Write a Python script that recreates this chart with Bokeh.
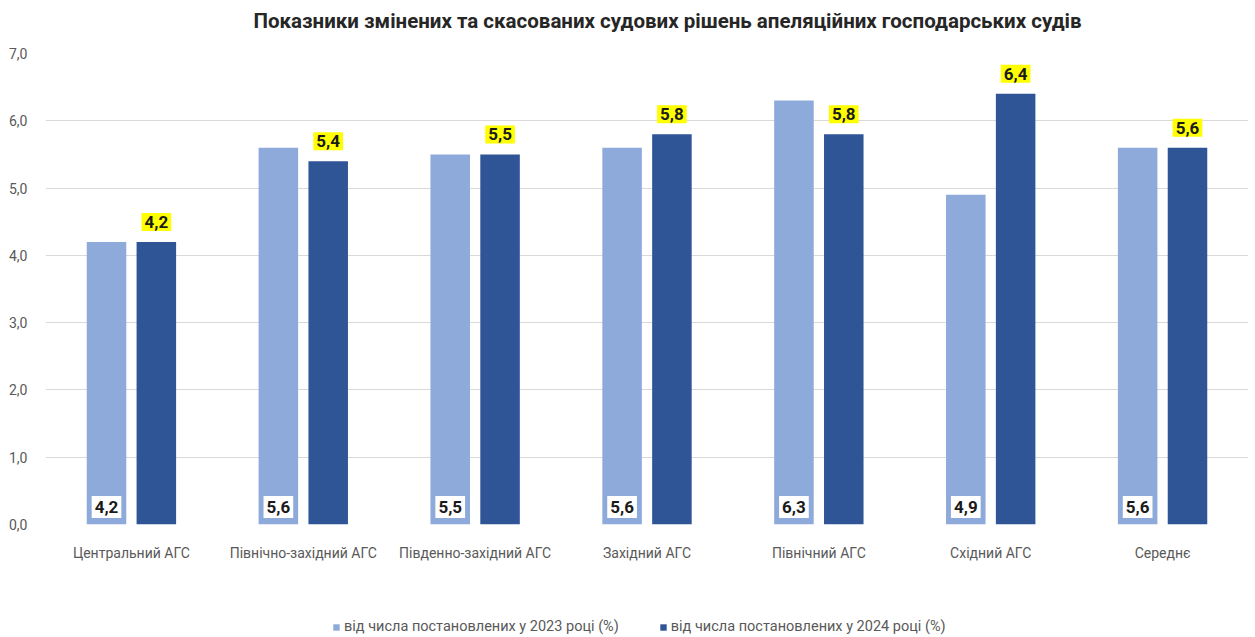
from bokeh.plotting import figure
from bokeh.layouts import column
from bokeh.models import ColumnDataSource, FactorRange, FixedTicker, Legend, LegendItem, Label
from bokeh.transform import dodge
from bokeh.core.properties import value
from bokeh.embed import file_html
from bokeh.resources import INLINE

categories = ["Центральний АГС", "Північно-західний АГС", "Південно-західний АГС",
              "Західний АГС", "Північний АГС", "Східний АГС", "Середнє"]
values_2023 = [4.2, 5.6, 5.5, 5.6, 6.3, 4.9, 5.6]
values_2024 = [4.2, 5.4, 5.5, 5.8, 5.8, 6.4, 5.6]
series_names = ["від числа постановлених у 2023 році (%)",
                "від числа постановлених у 2024 році (%)"]
y_ticks = [0, 1, 2, 3, 4, 5, 6, 7]
y_tick_labels = ["0,0", "1,0", "2,0", "3,0", "4,0", "5,0", "6,0", "7,0"]
title_text = "Показники змінених та скасованих судових рішень апеляційних господарських судів"

def fmt(v):
    return f"{v:.1f}".replace(".", ",")

src = ColumnDataSource(dict(
    cat=categories,
    v23=values_2023,
    v24=values_2024,
    zero=[0] * len(categories),
    l23=[fmt(v) for v in values_2023],
    l24=[fmt(v) for v in values_2024],
))

LIGHT = "#8eaadb"
DARK = "#2f5597"
FONT = "Roboto"
W = 1248

# title strip
pt = figure(width=W, height=40, output_backend="svg", toolbar_location=None,
            x_range=(0, 1), y_range=(0, 1))
pt.min_border = 0
pt.axis.visible = False
pt.grid.visible = False
pt.outline_line_color = None
pt.add_layout(Label(x=208, y=20, x_units="screen", y_units="screen", text=title_text,
                    text_font=FONT, text_font_size="20.5px", text_font_style="bold",
                    text_color="#262626", text_align="left", text_baseline="middle"))

p = figure(x_range=FactorRange(*categories, range_padding=0), y_range=(0, 7),
           width=W, height=570, output_backend="svg", toolbar_location=None)
p.min_border_left = 45
p.min_border_right = 0
p.min_border_top = 13
p.min_border_bottom = 86
p.outline_line_color = None
p.background_fill_color = "white"
p.border_fill_color = "white"

r1 = p.vbar(x=dodge("cat", -0.145, range=p.x_range), top="v23", width=0.23,
            source=src, fill_color=LIGHT, line_color=None)
r2 = p.vbar(x=dodge("cat", 0.145, range=p.x_range), top="v24", width=0.23,
            source=src, fill_color=DARK, line_color=None)

# bottom labels (2023) in white boxes
p.text(x=dodge("cat", -0.145, range=p.x_range), y="zero", text="l23", source=src,
       text_align="center", text_baseline="middle", y_offset=-17.5,
       text_font=value(FONT), text_font_size="17px", text_font_style="bold",
       text_color="#1a1a1a", background_fill_color="white",
       padding=dict(left=3, right=3, top=5, bottom=5))

# top labels (2024) in yellow boxes
p.text(x=dodge("cat", 0.145, range=p.x_range), y="v24", text="l24", source=src,
       text_align="center", text_baseline="middle", y_offset=-20,
       text_font=value(FONT), text_font_size="17px", text_font_style="bold",
       text_color="#1a1a1a", background_fill_color="#ffff00",
       padding=dict(left=3, right=3, top=3, bottom=3))

p.yaxis.ticker = FixedTicker(ticks=y_ticks)
p.yaxis.major_label_overrides = {t: l for t, l in zip(y_ticks, y_tick_labels)}
for ax in (p.xaxis, p.yaxis):
    ax.axis_line_color = None
    ax.major_tick_line_color = None
    ax.minor_tick_line_color = None
    ax.major_label_text_font = FONT
    ax.major_label_text_font_size = "14px"
    ax.major_label_text_color = "#595959"
p.yaxis.major_label_standoff = 12
p.xaxis.major_label_standoff = 14
p.xgrid.grid_line_color = None
p.ygrid.grid_line_color = "#d9d9d9"
p.ygrid.grid_line_width = 1

# legend strip
pl = figure(width=W, height=26, output_backend="svg", toolbar_location=None,
            x_range=(0, 1), y_range=(0, 1))
pl.min_border = 0
pl.axis.visible = False
pl.grid.visible = False
pl.outline_line_color = None
dummy = ColumnDataSource(dict(x=[-10], top=[-10]))
d1 = pl.vbar(x="x", top="top", width=0.1, source=dummy, fill_color=LIGHT, line_color=None)
d2 = pl.vbar(x="x", top="top", width=0.1, source=dummy, fill_color=DARK, line_color=None)
legend = Legend(items=[LegendItem(label=series_names[0], renderers=[d1]),
                       LegendItem(label=series_names[1], renderers=[d2])],
                orientation="horizontal", location=(287, 1),
                label_text_font=FONT, label_text_font_size="14.5px",
                label_text_color="#595959", glyph_width=8, glyph_height=8,
                label_height=16, spacing=40, label_standoff=4,
                border_line_color=None, background_fill_alpha=0, margin=0, padding=0)
pl.add_layout(legend, "center")

open("out.html", "w").write(file_html(column(pt, p, pl, spacing=0), INLINE))
